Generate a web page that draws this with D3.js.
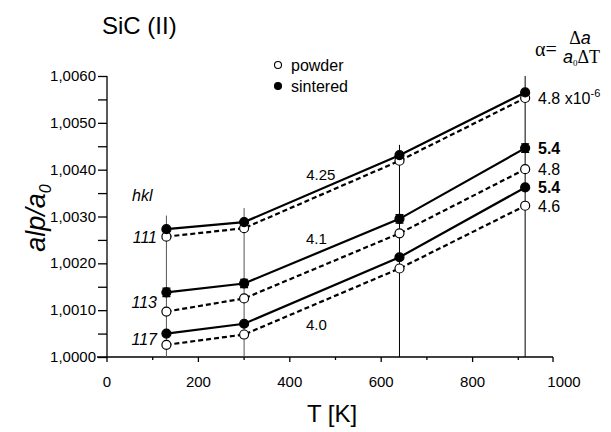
<!DOCTYPE html>
<html>
<head>
<meta charset="utf-8">
<script src="https://cdn.jsdelivr.net/npm/d3@7"></script>
<style>
  body { margin: 0; background: #fff; }
  text { font-family: "Liberation Sans", Arial, sans-serif; fill: #000; }
</style>
</head>
<body>
<script>
// temperatures of the measurements
var temps = [130, 300, 640, 915];

// a/a0 for each reflection, sintered and powder
var sintered111 = [1.00273, 1.00288, 1.00431, 1.00565];
var powder111   = [1.00257, 1.00275, 1.00419, 1.00553];
var sintered113 = [1.00138, 1.00157, 1.00295, 1.00446];
var powder113   = [1.00097, 1.00125, 1.00264, 1.00401];
var sintered117 = [1.00050, 1.00071, 1.00213, 1.00362];
var powder117   = [1.00026, 1.00048, 1.00189, 1.00323];

// top of the vertical range line at each temperature
var rangeTop = [1.00302, 1.00318, 1.00453, 1.00600];
// error on sintered 113
var err113 = [0.00009, 0.00009, 0.00009, 0.00009];

var hklLabels = ["111", "113", "117"];
var midSlopes = ["4.25", "4.1", "4.0"];
var endSlopes = ["4.8", "5.4", "4.8", "5.4", "4.6"];

var yTicks = [1.000, 1.001, 1.002, 1.003, 1.004, 1.005, 1.006];
var xTicks = [0, 200, 400, 600, 800, 1000];

var svgWidth = 611, svgHeight = 432;

var svg = d3.select("body")
            .append("svg")
            .attr("width", svgWidth)
            .attr("height", svgHeight);

var xScale = d3.scaleLinear().domain([0, 1000]).range([107, 564]);
var yScale = d3.scaleLinear().domain([1.0, 1.006]).range([357, 76]);

// y axis
var yAxis = d3.axisLeft(yScale)
              .tickValues(d3.range(1.0, 1.00601, 0.0005))
              .tickSize(9)
              .tickFormat("");
var gy = svg.append("g")
            .attr("transform", `translate(${xScale(0)},0)`)
            .call(yAxis);
gy.select(".domain").attr("d", `M0,${yScale(1.006)}V${yScale(1.0)}`);
gy.selectAll("line, path").attr("stroke", "#000").attr("stroke-width", 1.3);

svg.selectAll(".ylab")
   .data(yTicks)
   .enter()
   .append("text")
   .attr("x", 96)
   .attr("y", d => yScale(d) + 5)
   .attr("text-anchor", "end")
   .style("font-size", "15px")
   .text(d => d.toFixed(4).replace(".", ","));

// x axis (the line stops a little short of 1000)
var xEnd = 976;
var gx = svg.append("g").attr("transform", `translate(0,${yScale(1.0)})`);
gx.append("path")
  .attr("d", `M${xScale(0) - 10},0H${xScale(xEnd)}`)
  .attr("stroke", "#000").attr("stroke-width", 1.3).attr("fill", "none");
var minorX = d3.range(100, 1000, 200);
gx.selectAll(".maj")
  .data([0, 200, 400, 600, 800, xEnd])
  .enter().append("line")
  .attr("x1", d => xScale(d)).attr("x2", d => xScale(d))
  .attr("y1", 0).attr("y2", 5)
  .attr("stroke", "#000").attr("stroke-width", 1.3);
gx.selectAll(".min")
  .data(minorX)
  .enter().append("line")
  .attr("x1", d => xScale(d)).attr("x2", d => xScale(d))
  .attr("y1", 0).attr("y2", 3)
  .attr("stroke", "#000").attr("stroke-width", 1.3);
gx.selectAll(".xlab")
  .data(xTicks)
  .enter().append("text")
  .attr("x", d => xScale(d))
  .attr("y", 30)
  .attr("text-anchor", "middle")
  .style("font-size", "15px")
  .text(d => d);

// axis titles
svg.append("text")
   .attr("x", 332).attr("y", 422)
   .attr("text-anchor", "middle")
   .style("font-size", "24px")
   .text("T [K]");

var yt = svg.append("text")
   .attr("transform", "translate(45,218) rotate(-90)")
   .attr("text-anchor", "middle")
   .style("font-size", "27px")
   .style("font-style", "italic");
yt.append("tspan").text("alp/a");
yt.append("tspan").attr("dy", 6).style("font-size", "16px").text("0");

svg.append("text")
   .attr("x", 102).attr("y", 34)
   .style("font-size", "24px")
   .text("SiC (II)");

// vertical range lines
svg.selectAll(".range")
   .data(temps)
   .enter().append("line")
   .attr("x1", d => xScale(d)).attr("x2", d => xScale(d))
   .attr("y1", yScale(1.0))
   .attr("y2", (d, i) => yScale(rangeTop[i]))
   .attr("stroke", (d, i) => i < 2 ? "#555" : "#000")
   .attr("stroke-width", 1);

// error caps on sintered 113
svg.selectAll(".cap")
   .data(temps)
   .enter().append("path")
   .attr("d", (d, i) => {
     var x = xScale(d), y1 = yScale(sintered113[i] + err113[i]), y2 = yScale(sintered113[i] - err113[i]);
     return `M${x - 4},${y1}H${x + 4}M${x - 4},${y2}H${x + 4}M${x},${y1}V${y2}`;
   })
   .attr("stroke", "#000").attr("stroke-width", 1.2).attr("fill", "none");

var series = [
  {vals: powder111, sint: false},
  {vals: sintered111, sint: true},
  {vals: powder113, sint: false},
  {vals: sintered113, sint: true},
  {vals: powder117, sint: false},
  {vals: sintered117, sint: true}
];

var line = d3.line()
             .x((d, i) => xScale(temps[i]))
             .y(d => yScale(d));

svg.selectAll(".ser")
   .data(series)
   .enter().append("path")
   .attr("d", d => line(d.vals))
   .attr("fill", "none")
   .attr("stroke", "#000")
   .attr("stroke-width", 2.2)
   .attr("stroke-dasharray", d => d.sint ? null : "5,3");

series.forEach(function(s) {
  svg.selectAll(null)
     .data(s.vals)
     .enter().append("circle")
     .attr("cx", (d, i) => xScale(temps[i]))
     .attr("cy", d => yScale(d))
     .attr("r", 4.5)
     .attr("fill", s.sint ? "#000" : "#fff")
     .attr("stroke", "#000")
     .attr("stroke-width", 1.2);
});

// hkl labels
svg.append("text")
   .attr("x", 132).attr("y", 201)
   .style("font-size", "16px").style("font-style", "italic")
   .text("hkl");
var hklY = [powder111[0], (sintered113[0] + powder113[0]) / 2, (sintered117[0] + powder117[0]) / 2];
svg.selectAll(".hkl")
   .data(hklLabels)
   .enter().append("text")
   .attr("x", 157)
   .attr("y", (d, i) => yScale(hklY[i]) + 6)
   .attr("text-anchor", "end")
   .style("font-size", "16px").style("font-style", "italic")
   .text(d => d);

// slope labels in the middle
var tMid = [468, 458, 458];
var interp = (arr, t) => arr[1] + (t - temps[1]) / (temps[2] - temps[1]) * (arr[2] - arr[1]);
var midY = [yScale(interp(sintered111, tMid[0])) - 9,
            yScale(interp(sintered113, tMid[1])) - 9,
            yScale(interp(powder117, tMid[2])) + 26];
svg.selectAll(".mid")
   .data(midSlopes)
   .enter().append("text")
   .attr("x", (d, i) => xScale(tMid[i]))
   .attr("y", (d, i) => midY[i])
   .attr("text-anchor", "middle")
   .style("font-size", "15px")
   .text(d => d);

// slope labels at the right end
var endSeries = [powder111, sintered113, powder113, sintered117, powder117];
var endBold = [false, true, false, true, false];
var endLab = svg.selectAll(".end")
   .data(endSlopes)
   .enter().append("text")
   .attr("x", 538)
   .attr("y", (d, i) => yScale(endSeries[i][3]) + 6)
   .style("font-size", "16px")
   .style("font-weight", (d, i) => endBold[i] ? "bold" : "normal")
   .text(d => d);
endLab.filter((d, i) => i === 0)
   .append("tspan").text(" x10");
endLab.filter((d, i) => i === 0)
   .append("tspan").attr("dy", -7).style("font-size", "11px").text("-6");

// legend
var legend = [{name: "powder", sint: false}, {name: "sintered", sint: true}];
var lg = svg.selectAll(".leg")
   .data(legend)
   .enter().append("g")
   .attr("transform", (d, i) => `translate(278,${65 + i * 21})`);
lg.append("circle")
  .attr("r", 3.5)
  .attr("fill", d => d.sint ? "#000" : "#fff")
  .attr("stroke", "#000").attr("stroke-width", 1.1);
lg.append("text")
  .attr("x", 13).attr("y", 6)
  .style("font-size", "16px")
  .text(d => d.name);

// formula
var fm = svg.append("g").style("font-family", "'Liberation Serif', 'Times New Roman', serif");
fm.append("text").attr("x", 535).attr("y", 56)
  .style("font-family", "inherit").style("font-size", "20px").text("α=");
fm.append("text").attr("x", 580).attr("y", 44).attr("text-anchor", "middle")
  .style("font-family", "inherit").style("font-size", "18px")
  .html("Δ<tspan style='font-style:italic;font-family:Liberation Sans'>a</tspan>");
var den = fm.append("text").attr("x", 563).attr("y", 63)
  .style("font-family", "inherit").style("font-size", "18px");
den.append("tspan").style("font-style", "italic").style("font-family", "Liberation Sans").text("a");
den.append("tspan").attr("dy", 3).style("font-size", "9px").text("0");
den.append("tspan").attr("dy", -3).text("ΔT");
</script>
</body>
</html>
